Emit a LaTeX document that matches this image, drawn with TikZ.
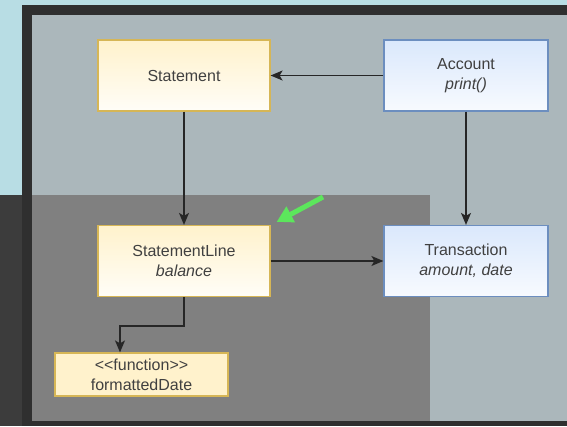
\documentclass[tikz,border=0pt]{standalone}
\usepackage{fontspec}
\setmainfont{Liberation Sans}
\usepackage{tikz}
\usetikzlibrary{arrows.meta,positioning,calc}
\definecolor{skyback}{HTML}{B8DDE4}
\definecolor{frameback}{HTML}{2F2F2F}
\definecolor{stripback}{HTML}{3C3C3C}
\definecolor{panelback}{HTML}{ABB7BB}
\definecolor{zoneback}{HTML}{808080}
\definecolor{yellowfill}{HTML}{FFF2CC}
\definecolor{yellowline}{HTML}{D6B656}
\definecolor{bluefill}{HTML}{DAE8FC}
\definecolor{blueline}{HTML}{6C8EBF}
\definecolor{pointer}{HTML}{5CE65C}
\tikzset{
	class box/.style={
		rectangle,
		line width=1.2pt,
		minimum width=172pt,
		minimum height=71pt,
		align=center,
		text=black!75,
		font=\fontsize{16}{20}\selectfont
	},
	yellow box/.style={
		class box,
		draw=yellowline,
		top color=yellowfill,
		bottom color=yellowfill!15
	},
	blue box/.style={
		class box,
		draw=blueline,
		top color=bluefill,
		bottom color=bluefill!20,
		minimum width=164pt
	},
	function box/.style={
		class box,
		draw=yellowline,
		fill=yellowfill,
		minimum width=173pt,
		minimum height=43pt
	},
	conn/.style={
		draw=black!85,
		line width=1.4pt,
		-{Stealth[length=12pt,width=10pt,inset=3pt]}
	},
	highlight/.style={
		draw=pointer,
		line width=5pt,
		-{Triangle[length=16pt,width=17pt]}
	}
}
\begin{document}
\begin{tikzpicture}[x=1pt,y=-1pt]
	% backdrop
	\fill[skyback] (0,0) rectangle (567,426);
	\fill[stripback] (0,195) rectangle (22,426);
	\fill[frameback] (22,5) rectangle (567,426);
	\fill[panelback] (32,15) rectangle (567,421);
	\fill[zoneback] (32,195) rectangle (430,421);

	% classes
	\node[yellow box] (statement) at (184,75.5) {Statement};
	\node[blue box] (account) at (466,75.5) {Account\\\textit{print()}};
	\node[yellow box] (sline) at (184,261) {StatementLine\\\textit{balance}};
	\node[blue box] (transaction) at (466,261) {Transaction\\\textit{amount, date}};
	\node[function box] (func) at (141.5,374.5) {{<}{<}function{>}{>}\\formattedDate};

	% links
	\draw[conn] (account) -- (statement);
	\draw[conn] (statement) -- (sline);
	\draw[conn] (account) -- (transaction);
	\draw[conn] (sline) -- (transaction);
	\draw[conn] (sline.south) -- ++(0,29) -| ([xshift=-21.5pt]func.north);

	% pointer
	\coordinate (hl tail) at (323,197);
	\draw[highlight] (hl tail) -- ([shift={(6,-3)}]sline.north east);
\end{tikzpicture}
\end{document}
